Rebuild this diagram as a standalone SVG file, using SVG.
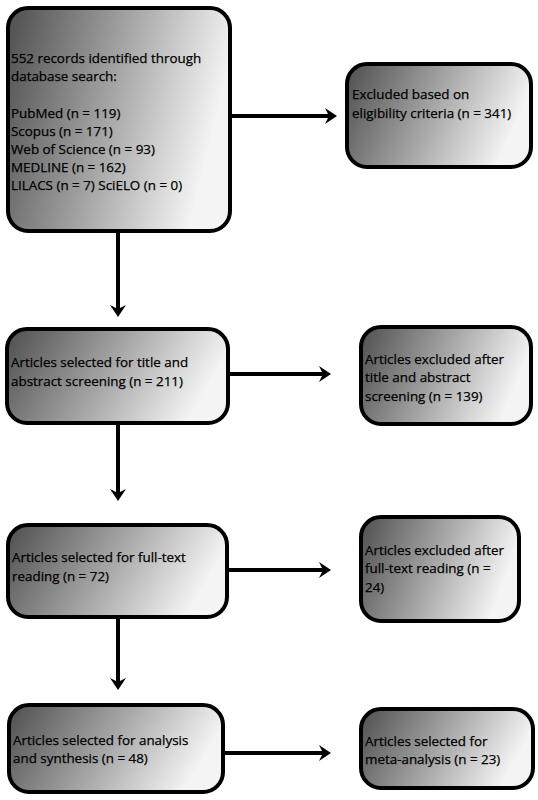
<svg xmlns="http://www.w3.org/2000/svg" width="538" height="800" viewBox="0 0 538 800">
<defs>
<linearGradient id="g" x1="0" y1="0" x2="1" y2="0.25">
<stop offset="0" stop-color="#4e4e4e"/>
<stop offset="0.55" stop-color="#a8a8a8"/>
<stop offset="1" stop-color="#f4f4f4"/>
</linearGradient>
<marker id="ah" viewBox="0 0 12 16" refX="6" refY="8" markerWidth="12" markerHeight="16" markerUnits="userSpaceOnUse" orient="auto">
<path d="M0,0 L12,8 L0,16 L4,8 Z" fill="#000"/>
</marker>
</defs>
<style>
.box{fill:url(#g);stroke:#000;stroke-width:4}
.t{font-family:"Open Sans","Noto Sans","DejaVu Sans",sans-serif;font-size:13.4px;fill:#000;stroke:#000;stroke-width:0.25}
.c{stroke:#000;stroke-width:4;fill:none;marker-end:url(#ah)}
</style>
<rect width="538" height="800" fill="#fff"/>
<g id="n1">
<rect class="box" x="8" y="8" width="222" height="223" rx="20"/>
<text class="t" x="11" y="63">552 records identified through</text>
<text class="t" x="11" y="81">database search:</text>
<text class="t" x="11" y="118">PubMed (n = 119)</text>
<text class="t" x="11" y="136">Scopus (n = 171)</text>
<text class="t" x="11" y="154">Web of Science (n = 93)</text>
<text class="t" x="11" y="172">MEDLINE (n = 162)</text>
<text class="t" x="11" y="190">LILACS (n = 7) SciELO (n = 0)</text>
</g>
<g id="n2">
<rect class="box" x="347" y="64" width="184" height="103" rx="20"/>
<text class="t" x="352" y="99">Excluded based on</text>
<text class="t" x="352" y="118">eligibility criteria (n = 341)</text>
</g>
<g id="n3">
<rect class="box" x="7" y="329" width="221" height="94" rx="20"/>
<text class="t" x="11" y="367">Articles selected for title and</text>
<text class="t" x="11" y="386">abstract screening (n = 211)</text>
</g>
<g id="n4">
<rect class="box" x="361" y="327" width="170" height="97" rx="20"/>
<text class="t" x="365" y="364">Articles excluded after</text>
<text class="t" x="365" y="382">title and abstract</text>
<text class="t" x="365" y="401">screening (n = 139)</text>
</g>
<g id="n5">
<rect class="box" x="8" y="525" width="219" height="92" rx="20"/>
<text class="t" x="12" y="562">Articles selected for full-text</text>
<text class="t" x="12" y="581">reading (n = 72)</text>
</g>
<g id="n6">
<rect class="box" x="361" y="517" width="158" height="104" rx="20"/>
<text class="t" x="365" y="555">Articles excluded after</text>
<text class="t" x="365" y="573">full-text reading (n =</text>
<text class="t" x="365" y="592">24)</text>
</g>
<g id="n7">
<rect class="box" x="9" y="705" width="214" height="87" rx="20"/>
<text class="t" x="13" y="745">Articles selected for analysis</text>
<text class="t" x="13" y="763">and synthesis (n = 48)</text>
</g>
<g id="n8">
<rect class="box" x="361" y="709" width="172" height="79" rx="20"/>
<text class="t" x="365" y="746">Articles selected for</text>
<text class="t" x="365" y="764">meta-analysis (n = 23)</text>
</g>
<g id="connectors">
<line class="c" x1="230" y1="116" x2="331" y2="116"/>
<line class="c" x1="118" y1="231" x2="118" y2="311"/>
<line class="c" x1="228" y1="374" x2="325" y2="374"/>
<line class="c" x1="118" y1="423" x2="118" y2="495"/>
<line class="c" x1="227" y1="570" x2="325" y2="570"/>
<line class="c" x1="118" y1="617" x2="118" y2="684"/>
<line class="c" x1="223" y1="753" x2="325" y2="753"/>
</g>
</svg>
